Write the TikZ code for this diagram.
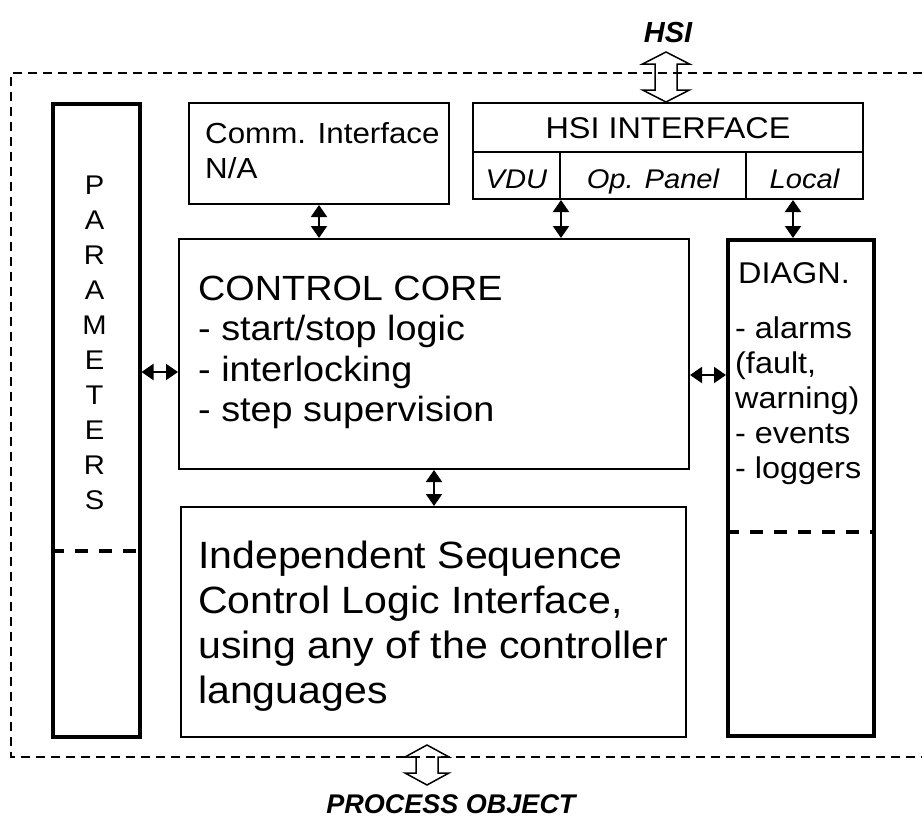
\documentclass[tikz,border=0pt]{standalone}
\usepackage{fontspec}
\setmainfont{Liberation Sans}[FakeStretch=1.08]
\newfontfamily\plainsans{Liberation Sans}
\usetikzlibrary{arrows.meta,calc}
\begin{document}
\begin{tikzpicture}[x=1pt,y=-1pt,
  thinbox/.style={draw, line width=2pt, inner sep=0pt, anchor=north west},
  thickbox/.style={draw, line width=3.5pt, inner sep=0pt, anchor=north west},
  dbl/.style={{Triangle[length=12pt,width=16pt]}-{Triangle[length=12pt,width=16pt]}, line width=2pt},
  txt/.style={inner sep=0pt, anchor=base west},
  ctxt/.style={inner sep=0pt, anchor=base},
  hollow/.style={draw, line width=1.5pt, line join=miter},
  outer/.style={line width=1.8pt, dash pattern=on 9pt off 6pt},
  inner dash/.style={line width=3.5pt, dash pattern=on 13pt off 11pt},
]
\useasboundingbox (0,0) rectangle (922,819);

% outer dashed frame (open to the right)
\draw[outer] (922,73) -- (11,73) -- (11,757) -- (922,757);

% boxes
\node[thickbox, minimum width=87pt, minimum height=633pt] (params) at (51,102) {};
\node[thickbox, minimum width=146pt, minimum height=496pt] (diag) at (726,238) {};
\node[thinbox, minimum width=260pt, minimum height=101pt] (comm) at (188,102) {};
\node[thinbox, minimum width=390pt, minimum height=96pt] (hsi) at (472,102) {};
\node[thinbox, minimum width=510pt, minimum height=230pt] (core) at (178,238) {};
\node[thinbox, minimum width=505pt, minimum height=230pt] (indep) at (180,506) {};

% HSI sub-cells
\node[thinbox, minimum width=87pt, minimum height=47pt] (vdu) at (472,151) {};
\node[thinbox, minimum width=186pt, minimum height=47pt] (panel) at (559,151) {};
\node[thinbox, minimum width=117pt, minimum height=47pt] (local) at (745,151) {};

% dashed separators
\draw[inner dash] (params.west |- 0,551) -- (params.east |- 0,551);
\draw[inner dash] (diag.west |- 0,532) -- (diag.east |- 0,532);

% texts
\node[align=center, inner sep=0pt, font=\fontsize{27}{35}\selectfont] (ptext) at (94.5,343) {P\\A\\R\\A\\M\\E\\T\\E\\R\\S};

\node[txt, font=\fontsize{29}{35}\selectfont] (commt1) at (205,143) {Comm. Interface};
\node[txt, font=\fontsize{29}{35}\selectfont] (commt2) at (205,178) {N/A};

\node[ctxt, font=\fontsize{30}{35}\selectfont] (hsit) at (668,138) {HSI INTERFACE};
\node[ctxt, font=\fontsize{27}{30}\selectfont\itshape] (vdut) at (vdu.center |- 0,188) {VDU};
\node[ctxt, font=\fontsize{27}{30}\selectfont\itshape] (panelt) at (panel.center |- 0,188) {Op. Panel};
\node[ctxt, font=\fontsize{27}{30}\selectfont\itshape] (localt) at (local.center |- 0,188) {Local};

\node[txt, font=\fontsize{35}{40}\selectfont] (c1) at (198,300) {CONTROL CORE};
\node[txt, font=\fontsize{35}{40}\selectfont] (c2) at (198,340) {- start/stop logic};
\node[txt, font=\fontsize{35}{40}\selectfont] (c3) at (198,381) {- interlocking};
\node[txt, font=\fontsize{35}{40}\selectfont] (c4) at (198,421) {- step supervision};

\node[txt, font=\fontsize{38}{45}\selectfont] (i1) at (198,568) {Independent Sequence};
\node[txt, font=\fontsize{38}{45}\selectfont] (i2) at (198,613) {Control Logic Interface,};
\node[txt, font=\fontsize{38}{45}\selectfont] (i3) at (198,658) {using any of the controller};
\node[txt, font=\fontsize{38}{45}\selectfont] (i4) at (198,703) {languages};

\node[txt, font=\fontsize{30}{35}\selectfont] (d0) at (738,283) {DIAGN.};
\node[txt, font=\fontsize{30}{35}\selectfont] (d1) at (735,338) {- alarms};
\node[txt, font=\fontsize{30}{35}\selectfont] (d2) at (735,373) {(fault,};
\node[txt, font=\fontsize{30}{35}\selectfont] (d3) at (735,408) {warning)};
\node[txt, font=\fontsize{30}{35}\selectfont] (d4) at (735,443) {- events};
\node[txt, font=\fontsize{30}{35}\selectfont] (d5) at (735,478) {- loggers};

\node[ctxt, font=\plainsans\fontsize{29}{34}\selectfont\bfseries\itshape] (hsilabel) at (668,42) {HSI};
\node[ctxt, font=\plainsans\fontsize{27}{34}\selectfont\bfseries\itshape] (proc) at (451,813) {PROCESS OBJECT};

% connectors
\draw[dbl] (comm.south) -- (comm.south |- core.north);
\draw[dbl] (vdu.south east) -- (vdu.south east |- core.north);
\draw[dbl] (local.south -| 793,0) -- (diag.north -| 793,0);
\draw[dbl] (core.south) -- (core.south |- indep.north);
\draw[dbl] (params.east |- 0,372) -- (core.west |- 0,372);
\draw[dbl] (core.east |- 0,375) -- (diag.west |- 0,375);

% hollow double arrows
\coordinate (hsiA) at (666,52);
\draw[hollow] (hsiA) -- ++(23.5,12) -- ++(-12.5,0) -- ++(0,26) -- ++(12.5,0) -- (hsi.north -| hsiA)
  -- ++(-23.5,-12) -- ++(12.5,0) -- ++(0,-26) -- ++(-12.5,0) -- cycle;
\coordinate (procA) at (427,745);
\draw[hollow] (procA) -- ++(22,12) -- ++(-11,0) -- ++(0,16) -- ++(11,0) -- ++(-22,12)
  -- ++(-22,-12) -- ++(11,0) -- ++(0,-16) -- ++(-11,0) -- cycle;
\end{tikzpicture}
\end{document}
